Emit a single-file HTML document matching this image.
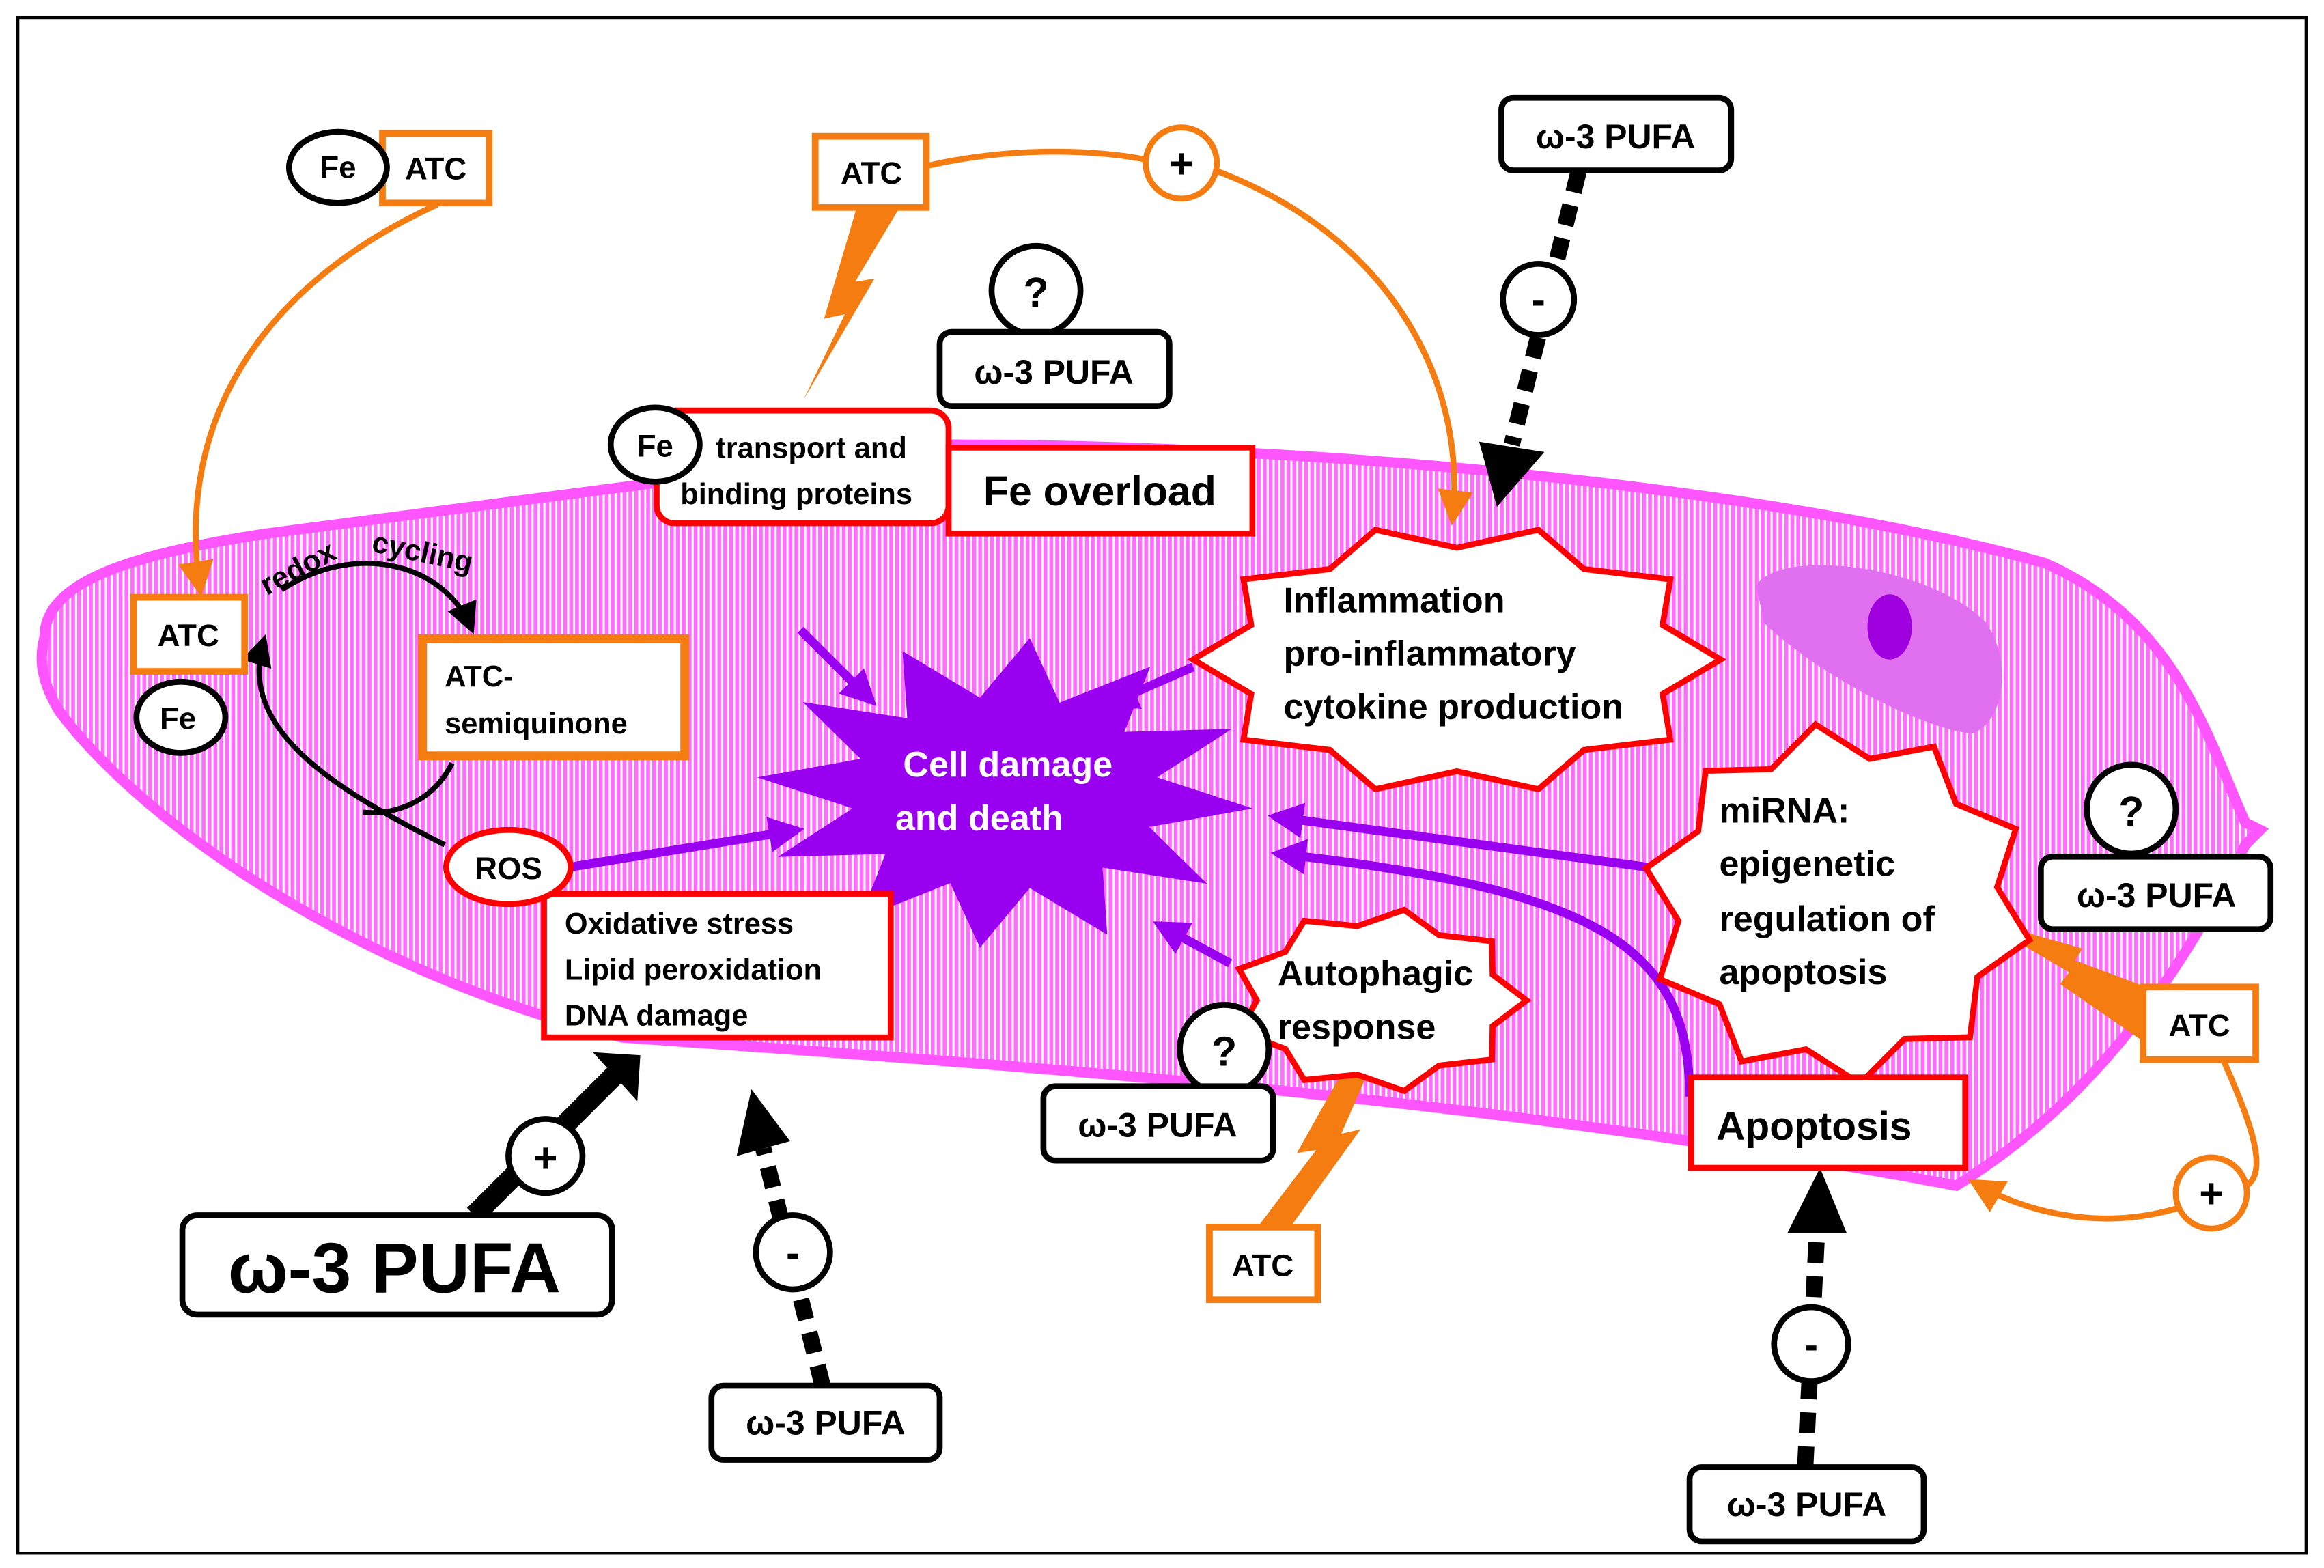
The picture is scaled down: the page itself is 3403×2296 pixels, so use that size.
<!DOCTYPE html>
<html><head><meta charset="utf-8"><style>
html,body{margin:0;padding:0;background:#fff}
svg{display:block}
text{font-family:"Liberation Sans",sans-serif;font-weight:bold}
</style></head><body>
<svg id="s" width="3403" height="2296" viewBox="0 0 1568 1058" xmlns="http://www.w3.org/2000/svg">
<defs>
<pattern id="st" width="4" height="10" patternUnits="userSpaceOnUse">
<rect width="4" height="10" fill="#fff"/><rect width="2.6" height="10" fill="#ff6cff"/>
</pattern>
<marker id="abs" viewBox="0 0 10 10" refX="8" refY="5" markerWidth="6" markerHeight="6" orient="auto"><path d="M0,0L10,5L0,10z" fill="#000"/></marker>
<marker id="ao" viewBox="0 0 10 10" refX="8" refY="5" markerWidth="6" markerHeight="6" orient="auto"><path d="M0,0L10,5L0,10z" fill="#f57c10"/></marker>
<marker id="ap" viewBox="0 0 10 10" refX="8" refY="5" markerWidth="4" markerHeight="4" orient="auto"><path d="M0,0L10,5L0,10z" fill="#9a00f0"/></marker>
</defs>
<rect x="12" y="12" width="1544" height="1036" fill="#fff" stroke="#000" stroke-width="2"/>
<path d="M30,430 C30,395 80,375 180,360 L640,300 C900,300 1200,330 1380,380 C1470,420 1490,500 1515,555 L1525,560 L1515,570 C1460,680 1400,750 1320,800 C1000,740 700,720 420,700 C250,660 100,560 40,480 C28,460 26,445 30,430 Z" fill="url(#st)" stroke="#ff55ff" stroke-width="7"/>
<path d="M1185,395 C1200,370 1300,380 1340,420 C1360,450 1350,490 1330,495 C1290,490 1220,450 1190,420 Z" fill="#e070f0"/>
<ellipse cx="1275" cy="423" rx="15" ry="22" fill="#a000e0"/>

<path d="M295,138 C160,200 120,300 135,398" fill="none" stroke="#f57c10" stroke-width="4" marker-end="url(#ao)"/>
<path d="M625,112 C700,95 760,105 775,108" fill="none" stroke="#f57c10" stroke-width="4"/>
<path d="M820,115 C940,160 990,260 980,350" fill="none" stroke="#f57c10" stroke-width="4" marker-end="url(#ao)"/>
<path d="M1500,715 C1520,760 1530,790 1516,800" fill="none" stroke="#f57c10" stroke-width="4"/>
<path d="M1470,815 C1420,830 1370,820 1332,798" fill="none" stroke="#f57c10" stroke-width="4" marker-end="url(#ao)"/>
<polygon points="607,140 578,140 556,215 570,212 542,270 590,188 577,190" fill="#f57c10"/>
<polygon points="928,712 905,765 918,762 872,826 850,826 888,776 875,778 912,712" fill="#f57c10"/>
<polygon points="1335,620 1405,640 1400,648 1464,672 1448,704 1390,664 1396,656" fill="#f57c10"/>

<g stroke="#000" stroke-width="11" stroke-dasharray="14,9" fill="none">
<line x1="1065" y1="116" x2="1020" y2="300"/>
<line x1="555" y1="935" x2="515" y2="775"/>
<line x1="1218" y1="990" x2="1226" y2="830"/>
</g>
<polygon points="998,298 1042,305 1010,342" fill="#000"/>
<polygon points="497,780 533,770 507,735" fill="#000"/>
<polygon points="1206,832 1246,832 1228,788" fill="#000"/>
<line x1="320" y1="820" x2="415" y2="725" stroke="#000" stroke-width="14"/>
<polygon points="400,710 432,712 430,743" fill="#000"/>

<path d="M190,398 C240,365 300,380 318,424" fill="none" stroke="#000" stroke-width="3.5" marker-end="url(#abs)"/>
<path d="M300,570 C220,530 160,490 178,432" fill="none" stroke="#000" stroke-width="3.5" marker-end="url(#abs)"/>
<path d="M305,515 C290,545 260,550 245,548" fill="none" stroke="#000" stroke-width="3.5"/>
<text font-size="20" transform="translate(180,402) rotate(-28)">redox</text>
<text font-size="20" transform="translate(250,372) rotate(12)">cycling</text>

<g stroke="#9a00f0" stroke-width="6" fill="none" marker-end="url(#ap)">
<line x1="540" y1="425" x2="588" y2="473"/>
<line x1="385" y1="585" x2="538" y2="560"/>
<line x1="805" y1="450" x2="748" y2="475"/>
<line x1="1118" y1="586" x2="860" y2="551"/>
<path d="M1140,740 C1140,640 1080,600 862,576"/>
<line x1="830" y1="650" x2="782" y2="624"/>
</g>

<polygon id="cd" fill="#9a00f0"/>
<polygon id="inf" fill="#fff" stroke="#f00" stroke-width="4"/>
<polygon id="mir" fill="#fff" stroke="#f00" stroke-width="4"/>
<polygon id="aut" fill="#fff" stroke="#f00" stroke-width="4"/>
<text x="680" y="524" font-size="24" fill="#fff" text-anchor="middle">Cell damage</text>
<text x="604" y="560" font-size="24" fill="#fff">and death</text>
<text x="866" y="413" font-size="24">Inflammation</text>
<text x="866" y="449" font-size="24">pro-inflammatory</text>
<text x="866" y="485" font-size="24">cytokine production</text>
<text x="1160" y="555" font-size="24">miRNA:</text>
<text x="1160" y="591" font-size="24">epigenetic</text>
<text x="1160" y="628" font-size="24">regulation of</text>
<text x="1160" y="664" font-size="24">apoptosis</text>
<text x="862" y="665" font-size="24">Autophagic</text>
<text x="862" y="701" font-size="24">response</text>

<g fill="#fff" stroke="#f57c10" stroke-width="4.5">
<rect x="258" y="90" width="72" height="47"/>
<rect x="550" y="92" width="75" height="48"/>
<rect x="90" y="403" width="75" height="50"/>
<rect x="285" y="431" width="177" height="79" stroke-width="6"/>
<rect x="816" y="828" width="73" height="49"/>
<rect x="1446" y="666" width="76" height="49"/>
</g>
<circle cx="797" cy="110" r="24" fill="#fff" stroke="#f57c10" stroke-width="4"/>
<circle cx="1492" cy="805" r="24" fill="#fff" stroke="#f57c10" stroke-width="4"/>
<g fill="#fff" stroke="#f00" stroke-width="4">
<rect x="443" y="277" width="197" height="76" rx="12"/>
<rect x="640" y="302" width="205" height="58"/>
<rect x="367" y="603" width="234" height="97"/>
<rect x="1141" y="727" width="185" height="61"/>
<ellipse cx="343" cy="585" rx="42" ry="25"/>
</g>
<g fill="#fff" stroke="#000" stroke-width="4">
<ellipse cx="228" cy="113" rx="33" ry="24"/>
<ellipse cx="442" cy="300" rx="30" ry="25"/>
<ellipse cx="122" cy="484" rx="30" ry="24"/>
<circle cx="699" cy="196" r="30"/>
<circle cx="826" cy="708" r="30"/>
<circle cx="1438" cy="546" r="30"/>
<circle cx="1038" cy="202" r="24"/>
<circle cx="368" cy="780" r="25"/>
<circle cx="535" cy="845" r="25"/>
<circle cx="1222" cy="907" r="25"/>
<rect x="1013" y="66" width="155" height="49" rx="8"/>
<rect x="634" y="224" width="155" height="50" rx="8"/>
<rect x="704" y="733" width="155" height="50" rx="8"/>
<rect x="1377" y="578" width="155" height="49" rx="8"/>
<rect x="123" y="820" width="290" height="67" rx="10"/>
<rect x="480" y="935" width="154" height="50" rx="8"/>
<rect x="1140" y="990" width="158" height="50" rx="8"/>
</g>

<g font-size="21" text-anchor="middle">
<text x="294" y="121">ATC</text>
<text x="588" y="124">ATC</text>
<text x="127" y="436">ATC</text>
<text x="852" y="861">ATC</text>
<text x="1484" y="699">ATC</text>
<text x="228" y="120">Fe</text>
<text x="442" y="308">Fe</text>
<text x="120" y="492">Fe</text>
<text x="343" y="593">ROS</text>
<text x="797" y="120" font-size="28">+</text>
<text x="1492" y="815" font-size="28">+</text>
<text x="368" y="791" font-size="28">+</text>
<text x="1038" y="212" font-size="28">-</text>
<text x="535" y="855" font-size="28">-</text>
<text x="1222" y="917" font-size="28">-</text>
<text x="699" y="207" font-size="28">?</text>
<text x="826" y="719" font-size="28">?</text>
<text x="1438" y="557" font-size="28">?</text>
<text x="1090" y="100" font-size="23">ω-3 PUFA</text>
<text x="711" y="259" font-size="23">ω-3 PUFA</text>
<text x="781" y="767" font-size="23">ω-3 PUFA</text>
<text x="1455" y="612" font-size="23">ω-3 PUFA</text>
<text x="557" y="968" font-size="23">ω-3 PUFA</text>
<text x="1219" y="1023" font-size="23">ω-3 PUFA</text>
<text x="266" y="872" font-size="48">ω-3 PUFA</text>
<text x="742" y="341" font-size="28">Fe overload</text>
</g>
<g font-size="20">
<text x="483" y="309">transport and</text>
<text x="459" y="340">binding proteins</text>
<text x="300" y="463">ATC-</text>
<text x="300" y="495">semiquinone</text>
<text x="381" y="630">Oxidative stress</text>
<text x="381" y="661">Lipid peroxidation</text>
<text x="381" y="692">DNA damage</text>
<text x="1158" y="769" font-size="27">Apoptosis</text>
</g>
</svg>
<script>
function star(id,cx,cy,rx,ry,n,inner,rot){
 var p=[];for(var i=0;i<2*n;i++){var a=Math.PI*i/n+(rot||0);var f=i%2?inner:1;
 p.push((cx+rx*f*Math.cos(a)).toFixed(1)+","+(cy+ry*f*Math.sin(a)).toFixed(1));}
 document.getElementById(id).setAttribute("points",p.join(" "));}
star("cd",678,535,168,105,12,0.62,0.1);
star("inf",983,445,178,92,10,0.82,0);
star("mir",1240,610,132,122,10,0.82,0.2);
star("aut",930,675,100,62,9,0.82,0);
</script>
</body></html>
